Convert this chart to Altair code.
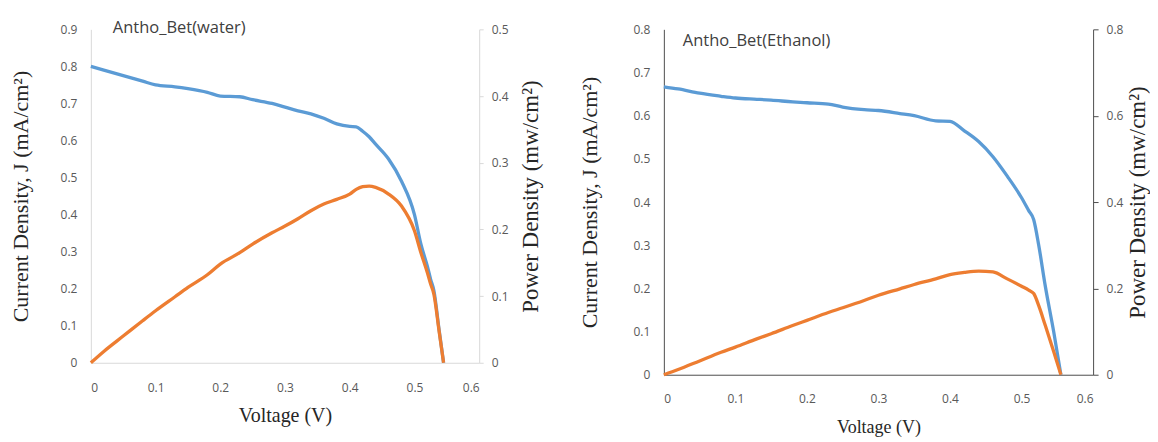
import altair as alt
import pandas as pd

# ---------- Panel 1: Antho_Bet(water) ----------
water_v = [0, 0.02, 0.05, 0.08, 0.10, 0.13, 0.15, 0.18, 0.20, 0.23, 0.25, 0.28, 0.30,
           0.32, 0.34, 0.36, 0.38, 0.40, 0.41, 0.42, 0.43, 0.44, 0.46, 0.48, 0.50,
           0.51, 0.52, 0.525, 0.53, 0.538, 0.545]
water_j = [0.80, 0.79, 0.775, 0.76, 0.75, 0.745, 0.74, 0.73, 0.72, 0.718, 0.71, 0.70, 0.69,
           0.68, 0.672, 0.66, 0.645, 0.638, 0.637, 0.625, 0.61, 0.59, 0.55, 0.49, 0.40,
           0.32, 0.26, 0.225, 0.195, 0.09, 0.0]
water_p = [0, 0.017, 0.04, 0.063, 0.078, 0.099, 0.113, 0.132, 0.148, 0.165, 0.178, 0.195, 0.205,
           0.216, 0.228, 0.238, 0.245, 0.253, 0.26, 0.264, 0.265, 0.263, 0.253, 0.235, 0.198,
           0.165, 0.135, 0.118, 0.103, 0.048, 0.0]

# ---------- Panel 2: Antho_Bet(Ethanol) ----------
eth_v = [0, 0.02, 0.05, 0.08, 0.10, 0.13, 0.15, 0.18, 0.20, 0.23, 0.25, 0.28, 0.30,
         0.33, 0.35, 0.38, 0.40, 0.42, 0.44, 0.46, 0.48, 0.50, 0.51, 0.517, 0.524,
         0.533, 0.545, 0.555]
eth_j = [0.667, 0.662, 0.652, 0.645, 0.641, 0.638, 0.636, 0.632, 0.630, 0.627, 0.62, 0.614, 0.612,
         0.605, 0.60, 0.588, 0.587, 0.565, 0.54, 0.505, 0.46, 0.41, 0.38, 0.359, 0.30,
         0.207, 0.099, 0.0]
eth_p = [0, 0.012, 0.032, 0.052, 0.064, 0.083, 0.095, 0.114, 0.126, 0.144, 0.155, 0.172, 0.184,
         0.199, 0.209, 0.222, 0.232, 0.237, 0.24, 0.238, 0.222, 0.205, 0.196, 0.188, 0.16,
         0.115, 0.053, 0.0]

x_ticks = [0, 0.1, 0.2, 0.3, 0.4, 0.5, 0.6]
water_j_ticks = [0, 0.1, 0.2, 0.3, 0.4, 0.5, 0.6, 0.7, 0.8, 0.9]
water_p_ticks = [0, 0.1, 0.2, 0.3, 0.4, 0.5]
eth_j_ticks = [0, 0.1, 0.2, 0.3, 0.4, 0.5, 0.6, 0.7, 0.8]
eth_p_ticks = [0, 0.2, 0.4, 0.6, 0.8]

BLUE = "#5B9BD5"
ORANGE = "#ED7D31"
LABEL_FONT = "Open Sans"
SERIF = "Liberation Serif"


def panel(v, j, p, name, w, h, jdom, jticks, pdom, pticks, axis_col, right_ticks,
          title_dx, title_dy, ytitle_size, ytitle_pad, ptitle_size, xtitle_size,
          lp_x, tp_x, lp_r, tp_r):
    df = pd.DataFrame({"V": v, "J": j, "P": p})
    base = alt.Chart(df)
    common = dict(domainColor=axis_col, domainWidth=1, labelFont=LABEL_FONT,
                  labelFontSize=12, labelColor="#595959", titleFont=SERIF,
                  titleFontWeight="normal", titleColor="#262626", grid=False)
    xax = alt.Axis(values=x_ticks, format=".1~f", ticks=False, labelPadding=lp_x,
                   title="Voltage (V)", titleFontSize=xtitle_size, titlePadding=tp_x,
                   **common)
    x = alt.X("V:Q", scale=alt.Scale(domain=[0, 0.6], nice=False), axis=xax)
    jline = base.mark_line(color=BLUE, strokeWidth=3.3, interpolate="monotone").encode(
        x=x,
        y=alt.Y("J:Q", scale=alt.Scale(domain=jdom, nice=False),
                axis=alt.Axis(orient="left", values=jticks, format=".1~f", ticks=False,
                              labelPadding=14, title="Current Density, J (mA/cm²)",
                              titleFontSize=ytitle_size, titlePadding=ytitle_pad,
                              **common)),
    )
    pline = base.mark_line(color=ORANGE, strokeWidth=3.3, interpolate="monotone").encode(
        x=x,
        y=alt.Y("P:Q", scale=alt.Scale(domain=pdom, nice=False),
                axis=alt.Axis(orient="right", values=pticks, format=".1~f",
                              ticks=True, tickSize=right_ticks, tickColor=axis_col,
                              labelPadding=lp_r, title="Power Density (mw/cm²)",
                              titleAngle=270, titleBaseline="top",
                              titleFontSize=ptitle_size,
                              titlePadding=tp_r, **common)),
    )
    label = alt.Chart(pd.DataFrame({"t": [name]})).mark_text(
        align="left", baseline="middle", font=LABEL_FONT, fontSize=16.5, color="#404040"
    ).encode(x=alt.value(title_dx), y=alt.value(title_dy), text="t:N")
    return alt.layer(jline, pline, label).resolve_scale(y="independent").properties(
        width=w, height=h)


left = panel(water_v, water_j, water_p, "Antho_Bet(water)", 389, 334,
             [0, 0.9], water_j_ticks, [0, 0.5], water_p_ticks, "#d9d9d9", 4,
             22, -1, 22, 28, 23, 20, 20, 12, 8, 12)
right = panel(eth_v, eth_j, eth_p, "Antho_Bet(Ethanol)", 430, 346,
              [0, 0.8], eth_j_ticks, [0, 0.8], eth_p_ticks, "#4d4d4d", 5,
              19, 12, 22, 32, 23, 18, 19, 14, 8, 4)

chart = alt.hconcat(left, right, spacing=35).properties(
    padding={"left": 1, "top": 12, "right": 0, "bottom": 0}
).configure_view(stroke=None)

chart.save("out.html", embed_options={"renderer": "svg", "actions": False})
